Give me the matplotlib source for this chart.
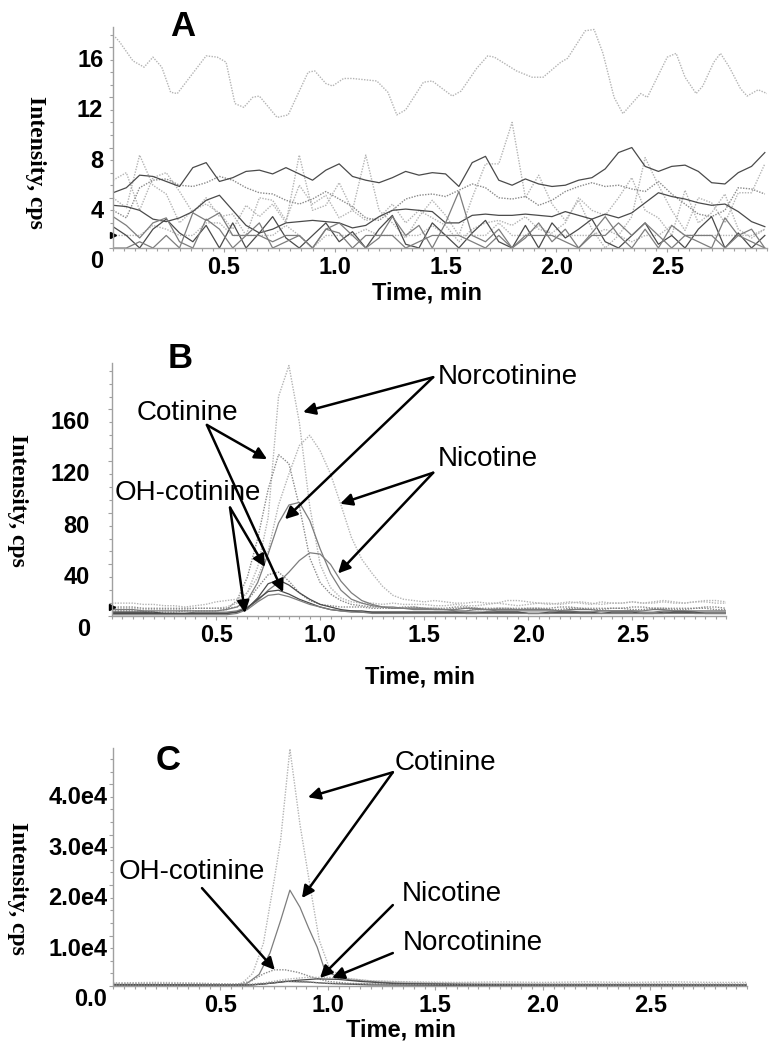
import matplotlib
matplotlib.use("Agg")
import matplotlib.pyplot as plt
import matplotlib.transforms as mtransforms
from matplotlib.ticker import MultipleLocator
import numpy as np

plt.rcParams['font.family'] = ['Liberation Sans', 'DejaVu Sans']

# ---------------- panel A: blank sample, intensity in cps ----------------
a_top_time = [0.01, 0.03, 0.09, 0.14, 0.18, 0.22, 0.26, 0.29, 0.42, 0.47,
              0.51, 0.55, 0.59, 0.63, 0.66, 0.74, 0.79, 0.88, 0.91, 0.96,
              0.99, 1.04, 1.08, 1.19, 1.24, 1.28, 1.32, 1.40, 1.44, 1.53,
              1.57, 1.64, 1.69, 1.72, 1.82, 1.89, 1.94, 2.02, 2.05, 2.13,
              2.17, 2.21, 2.26, 2.30, 2.38, 2.41, 2.50, 2.54, 2.58, 2.63,
              2.66, 2.71, 2.74, 2.78, 2.83, 2.86, 2.91, 2.95]
a_top = [16.8, 16.4, 14.9, 14.4, 15.2, 14.4, 12.4, 12.3, 15.3, 15.2,
         14.8, 11.5, 11.2, 12.0, 12.1, 10.4, 10.6, 14.0, 14.1, 13.1,
         12.9, 13.5, 13.5, 13.3, 12.4, 10.6, 11.0, 13.2, 13.3, 12.1,
         12.5, 14.3, 15.3, 15.2, 14.1, 13.6, 13.6, 14.8, 15.1, 17.3,
         17.4, 15.5, 12.0, 10.7, 12.3, 12.0, 15.2, 15.5, 13.6, 12.3,
         12.9, 14.8, 15.5, 14.4, 12.7, 12.1, 12.6, 12.3]

# the other blank traces are sampled every 0.06 min
a_time = np.round(np.arange(50) * 0.06, 2)
a_dark_high = [4.4, 4.8, 5.8, 5.7, 5.3, 4.9, 6.4, 6.8, 5.3, 5.6,
               6.1, 6.2, 5.9, 6.4, 5.9, 5.4, 6.2, 6.7, 5.7, 5.4,
               5.2, 5.6, 6.1, 5.8, 6.0, 5.9, 4.9, 6.8, 7.3, 5.4,
               5.0, 5.5, 5.1, 4.9, 5.0, 5.4, 5.6, 6.3, 7.6, 8.0,
               6.5, 6.1, 6.5, 6.6, 6.1, 5.2, 5.1, 6.0, 6.5, 7.6]
a_dot_mid = [3.0, 2.4, 4.8, 5.4, 5.5, 5.0, 4.9, 5.2, 5.7, 5.4,
             4.8, 4.4, 4.3, 3.8, 3.5, 3.9, 4.5, 3.9, 3.3, 2.4,
             2.2, 3.0, 3.9, 4.2, 4.3, 4.1, 4.6, 5.1, 4.8, 4.0,
             3.9, 4.1, 3.4, 3.8, 4.5, 4.9, 5.2, 4.9, 5.0, 4.7,
             4.5, 5.3, 4.3, 3.5, 2.7, 2.5, 3.0, 4.8, 4.7, 4.3]
a_dark_low = [3.4, 3.3, 3.0, 2.3, 2.1, 2.4, 2.9, 3.8, 4.2, 3.0,
              1.8, 1.2, 1.5, 2.0, 2.1, 2.2, 2.1, 2.0, 1.6, 1.8,
              2.5, 3.0, 3.1, 3.0, 2.9, 2.0, 2.0, 2.6, 2.7, 2.6,
              2.6, 2.7, 2.6, 2.5, 2.9, 2.6, 2.3, 2.7, 2.4, 2.8,
              3.6, 4.4, 4.1, 3.9, 3.6, 3.4, 3.5, 2.9, 2.1, 1.7]
a_spiky1 = [5.4, 6.0, 3.0, 5.6, 6.0, 4.5, 2.8, 4.0, 2.5, 2.7,
            1.0, 4.0, 3.8, 2.2, 5.0, 3.5, 4.2, 2.4, 3.0, 7.4,
            3.0, 2.0, 0.8, 2.5, 3.8, 2.6, 1.0, 4.0, 6.7, 6.7,
            10.0, 4.0, 5.8, 3.5, 2.2, 3.8, 1.5, 0.0, 1.0, 2.5,
            7.2, 5.0, 3.0, 1.4, 4.0, 3.6, 2.0, 4.4, 4.4, 6.7]
a_spiky2 = [4.0, 3.2, 7.4, 5.0, 4.3, 2.0, 3.0, 3.5, 2.8, 1.5,
            3.4, 2.5, 3.5, 2.0, 7.4, 3.0, 3.4, 5.2, 3.0, 2.2,
            2.4, 3.5, 2.0, 3.0, 2.4, 1.8, 0.5, 1.5, 2.0, 2.2,
            1.8, 2.5, 1.5, 1.2, 2.0, 4.0, 3.0, 2.6, 4.0, 5.6,
            3.0, 2.4, 1.0, 4.6, 2.0, 2.8, 4.3, 1.5, 0.8, 1.5]
a_zig1 = [1.7, 1.0, 0.0, 1.5, 2.3, 1.2, 0.5, 1.8, 0.0, 2.0,
          0.0, 1.2, 2.5, 0.8, 0.0, 1.0, 2.0, 0.5, 1.3, 0.0,
          1.5, 2.6, 0.3, 0.0, 2.0, 1.0, 0.0, 1.2, 2.2, 0.5,
          0.0, 1.8, 0.0, 2.0, 0.8, 1.5, 2.3, 0.5, 0.0, 1.0,
          2.0, 0.3, 1.0, 0.0, 1.5, 2.5, 0.0, 1.2, 0.0, 1.0]
a_zig2 = [2.5, 1.8, 0.8, 2.0, 2.4, 0.5, 0.0, 2.3, 1.5, 0.0,
          1.0, 2.0, 0.0, 0.5, 1.0, 0.0, 1.5, 2.0, 1.0, 0.0,
          0.8, 2.5, 1.0, 1.8, 0.0, 2.0, 4.5, 1.0, 0.5, 1.5,
          0.0, 0.8, 2.0, 0.5, 1.5, 0.0, 1.2, 2.5, 1.0, 0.0,
          1.5, 0.0, 1.8, 1.0, 0.5, 0.0, 2.4, 1.0, 1.5, 0.0]
a_dot_flat = [1.0, 1.0, 1.0, 1.8, 1.5, 1.0, 1.0, 2.0, 2.0, 1.0,
              1.0, 1.0, 1.0, 1.8, 1.0, 0.0, 1.0, 1.0, 1.0, 1.5,
              1.0, 1.0, 1.0, 1.0, 1.8, 1.0, 1.0, 1.0, 1.0, 2.0,
              1.0, 1.0, 1.8, 1.0, 1.0, 1.0, 1.0, 1.5, 1.0, 0.5,
              1.0, 1.0, 1.8, 1.0, 1.0, 1.0, 1.0, 1.0, 1.0, 1.5]
a_mid_flat = [0.0, 0.0, 0.5, 0.0, 1.0, 0.0, 2.8, 2.2, 2.8, 1.0,
              1.0, 1.0, 0.5, 1.0, 1.0, 0.0, 1.5, 1.2, 0.0, 1.0,
              1.0, 1.0, 0.0, 0.5, 1.0, 1.0, 1.0, 0.5, 0.0, 1.0,
              0.0, 1.0, 1.0, 1.0, 0.5, 0.0, 1.0, 1.0, 2.0, 1.0,
              2.0, 1.0, 0.0, 1.0, 1.0, 1.0, 0.0, 1.0, 0.5, 0.0]
a_marker_level = 1.0

# ---------------- panel B: low standard, sampled every 0.05 min ----------------
b_time = np.round(np.arange(60) * 0.05, 2)
b_norcot_q = [10, 10, 10, 9, 9, 8, 8, 7, 8, 9,
              11, 12, 13, 18, 38, 76, 170, 194, 150, 85,
              40, 22, 14, 11, 10, 10, 9, 10, 9, 9,
              9, 8, 8, 9, 8, 8, 9, 10, 9, 8,
              9, 10, 9, 10, 11, 10, 9, 11, 10, 10,
              11, 10, 11, 12, 11, 10, 11, 12, 12, 11]
b_nic_q = [6, 6, 6, 5, 5, 5, 5, 5, 6, 6,
           6, 7, 10, 18, 30, 50, 86, 110, 132, 140,
           128, 110, 86, 61, 44, 33, 23, 16, 13, 12,
           11, 12, 11, 10, 10, 11, 10, 10, 12, 12,
           11, 10, 10, 9, 10, 11, 10, 9, 10, 10,
           11, 10, 10, 11, 10, 10, 11, 11, 10, 10]
b_cot_q = [4, 4, 4, 4, 3, 3, 3, 4, 4, 4,
           4, 5, 12, 30, 60, 98, 125, 118, 85, 45,
           26, 17, 12, 9, 8, 7, 7, 6, 6, 7,
           6, 6, 5, 6, 6, 5, 5, 6, 6, 5,
           6, 6, 5, 5, 6, 6, 5, 5, 6, 6,
           5, 5, 6, 6, 5, 5, 6, 6, 5, 5]
b_norcot_c = [5, 5, 5, 4, 4, 4, 4, 4, 4, 4,
              4, 5, 7, 12, 26, 48, 72, 86, 88, 74,
              52, 33, 20, 13, 10, 8, 7, 7, 6, 6,
              6, 5, 5, 5, 6, 6, 5, 5, 5, 5,
              5, 5, 5, 4, 5, 5, 5, 4, 4, 4,
              4, 4, 5, 5, 4, 4, 4, 4, 4, 4]
b_nic_c = [3, 3, 3, 3, 2, 2, 2, 2, 3, 3,
           3, 3, 4, 7, 12, 20, 26, 34, 43, 49,
           48, 40, 27, 18, 12, 9, 7, 6, 6, 5,
           5, 5, 5, 4, 4, 5, 5, 4, 4, 4,
           4, 4, 4, 4, 4, 3, 3, 4, 4, 4,
           4, 3, 3, 4, 4, 4, 3, 3, 3, 3]
b_cot_c = [2, 2, 2, 2, 2, 2, 2, 2, 2, 2,
           2, 2, 3, 6, 14, 25, 28, 24, 18, 13,
           9, 7, 5, 4, 4, 3, 3, 3, 3, 3,
           3, 3, 3, 3, 2, 2, 3, 3, 3, 3,
           2, 2, 3, 3, 3, 2, 2, 2, 3, 3,
           3, 2, 2, 2, 3, 3, 3, 2, 2, 2]
b_ohcot_q = [7, 7, 7, 6, 6, 6, 6, 6, 6, 6,
             6, 6, 7, 12, 22, 32, 34, 27, 18, 12,
             9, 8, 7, 7, 7, 6, 6, 6, 7, 7,
             6, 6, 6, 7, 7, 6, 6, 6, 6, 6,
             6, 6, 6, 7, 7, 6, 6, 6, 6, 6,
             7, 7, 6, 6, 6, 6, 6, 7, 7, 6]
b_ohcot_c = [3, 3, 3, 3, 3, 2, 2, 2, 2, 2,
             2, 2, 3, 6, 13, 19, 20, 17, 13, 10,
             7, 5, 4, 4, 3, 3, 3, 3, 3, 3,
             3, 3, 3, 3, 3, 3, 3, 3, 3, 3,
             2, 2, 2, 3, 3, 3, 3, 2, 2, 2,
             2, 2, 2, 3, 3, 3, 2, 2, 2, 2]
b_other = [1, 1, 1, 1, 1, 1, 1, 1, 1, 1,
           1, 1, 2, 5, 11, 16, 17, 15, 12, 9,
           7, 5, 4, 3, 3, 2, 2, 2, 2, 2,
           2, 2, 2, 2, 2, 2, 2, 2, 2, 2,
           2, 2, 2, 2, 2, 2, 2, 2, 2, 2,
           2, 2, 2, 2, 2, 2, 2, 2, 2, 2]
b_marker_level = 7.0

# ---------------- panel C: smoker sample ----------------
c_cot_q_time = [0, 0.2, 0.4, 0.55, 0.60, 0.65, 0.70, 0.75, 0.78, 0.823, 0.87, 0.92,
                0.96, 1.01, 1.09, 1.2, 1.4, 1.6, 1.8, 2.0, 2.2, 2.4, 2.6, 2.8, 2.95]
c_cot_q = [600, 700, 600, 300, 500, 2500, 8500, 21000, 29000, 47000, 32000, 19000,
           9000, 3200, 1500, 1000, 800, 700, 800, 700, 800, 700, 800, 700, 700]
c_cot_c_time = [0, 0.3, 0.55, 0.62, 0.68, 0.73, 0.78, 0.823, 0.87, 0.91, 0.95, 0.98,
                1.02, 1.1, 1.3, 1.6, 2.0, 2.4, 2.8, 2.95]
c_cot_c = [300, 250, 150, 400, 2300, 6500, 13000, 19000, 15600, 11500, 7700, 3800,
           2300, 1200, 600, 400, 300, 250, 250, 250]
c_ohcot_time = [0, 0.4, 0.58, 0.64, 0.70, 0.75, 0.80, 0.86, 0.93, 1.0, 1.1, 1.3,
                1.6, 2.0, 2.5, 2.95]
c_ohcot = [500, 450, 350, 900, 2400, 3200, 3200, 2700, 1700, 900, 500, 400,
           300, 300, 300, 250]
c_nic_time = [0, 0.5, 0.62, 0.7, 0.8, 0.9, 1.0, 1.1, 1.2, 1.4, 1.7, 2.0, 2.4, 2.95]
c_nic = [400, 350, 300, 600, 1300, 1700, 1700, 1400, 1000, 700, 500, 450, 450, 400]
c_norcot_time = [0, 0.5, 0.65, 0.75, 0.85, 0.95, 1.05, 1.15, 1.3, 1.6, 2.0, 2.5, 2.95]
c_norcot = [250, 200, 200, 600, 1100, 1400, 1300, 900, 500, 300, 200, 200, 150]
c_small_time = [0, 0.6, 0.7, 0.8, 0.9, 1.0, 1.2, 1.6, 2.0, 2.5, 2.95]
c_small = [150, 100, 400, 900, 800, 500, 200, 100, 100, 100, 100]
c_base_time = [0, 0.6, 0.7, 0.8, 0.9, 1.0, 1.3, 2.0, 2.5, 2.95]
c_base = [200, 150, 400, 1000, 800, 500, 300, 200, 150, 150]

x_ticks = [0.5, 1.0, 1.5, 2.0, 2.5]

# line looks
DOT_LIGHT = dict(color='#b4b4b4', ls=(0, (1, 1)), lw=1.0)
DOT_MID = dict(color='#8a8a8a', ls=(0, (1, 1)), lw=1.0)
SOLID_DARK = dict(color='#4a4a4a', ls='-', lw=0.9)
SOLID_MID = dict(color='#7d7d7d', ls='-', lw=0.9)
AXIS_GREY = '#a0a0a0'


def style_axes(ax, ylim, y_ticks, y_labels, y_minor, label_pad):
    ax.set_xlim(0, 2.95)
    ax.set_ylim(*ylim)
    for side in ('top', 'right'):
        ax.spines[side].set_visible(False)
    for side in ('left', 'bottom'):
        ax.spines[side].set_color(AXIS_GREY)
        ax.spines[side].set_linewidth(1.0)
    ax.set_xticks(x_ticks, [f'{t:.1f}' for t in x_ticks], fontsize=17, fontweight='bold')
    ax.set_yticks(y_ticks, y_labels, fontsize=17, fontweight='bold')
    ax.xaxis.set_minor_locator(MultipleLocator(0.05))
    ax.yaxis.set_minor_locator(MultipleLocator(y_minor))
    ax.tick_params(which='both', direction='out', color=AXIS_GREY, width=0.8)
    ax.tick_params(which='major', length=3)
    ax.tick_params(which='minor', length=2)
    ax.tick_params(axis='x', pad=3)
    ax.tick_params(axis='y', pad=label_pad)
    # the instrument software prints the y labels a little below their ticks
    shift = mtransforms.ScaledTranslation(0, -0.11, ax.figure.dpi_scale_trans)
    for tick in ax.yaxis.get_major_ticks():
        tick.label1.set_transform(tick.label1.get_transform() + shift)


def add_callouts(ax, callouts):
    for c in callouts:
        ax.text(c['xy'][0], c['xy'][1], c['text'], fontsize=20, ha=c['ha'], va='center',
                clip_on=False, zorder=6)
        for target in c['targets']:
            ax.annotate('', xy=target, xytext=c['start'], annotation_clip=False, zorder=6,
                        arrowprops=dict(arrowstyle='-|>', color='black', lw=1.8,
                                        mutation_scale=18, shrinkA=0, shrinkB=0))


fig = plt.figure(figsize=(7.8, 10.5), dpi=100)

# ---- A ----
ax_a = fig.add_axes([0.1449, 0.7638, 0.8385, 0.2105])
ax_a.plot(a_top_time, a_top, **DOT_LIGHT)
ax_a.plot(a_time, a_spiky1, **DOT_LIGHT)
ax_a.plot(a_time, a_spiky2, **DOT_LIGHT)
ax_a.plot(a_time, a_dot_mid, **DOT_MID)
ax_a.plot(a_time, a_dot_flat, **DOT_LIGHT)
ax_a.plot(a_time, a_dark_high, **SOLID_DARK)
ax_a.plot(a_time, a_dark_low, **SOLID_DARK)
ax_a.plot(a_time, a_zig1, **SOLID_DARK)
ax_a.plot(a_time, a_zig2, **SOLID_MID)
ax_a.plot(a_time, a_mid_flat, **SOLID_MID)
ax_a.plot([0], [a_marker_level], marker='>', ms=4, color='black', clip_on=False)
style_axes(ax_a, (0, 17.6), [0, 4, 8, 12, 16], ['0', '4', '8', '12', '16'], 1, 4)

# ---- B ----
ax_b = fig.add_axes([0.1436, 0.4133, 0.7872, 0.2410])
ax_b.plot(b_time, b_norcot_q, **DOT_LIGHT)
ax_b.plot(b_time, b_nic_q, **DOT_LIGHT)
ax_b.plot(b_time, b_cot_q, **DOT_MID)
ax_b.plot(b_time, b_ohcot_q, **DOT_MID)
ax_b.plot(b_time, b_norcot_c, **SOLID_MID)
ax_b.plot(b_time, b_nic_c, **SOLID_MID)
ax_b.plot(b_time, b_cot_c, **SOLID_DARK)
ax_b.plot(b_time, b_ohcot_c, **SOLID_DARK)
ax_b.plot(b_time, b_other, **SOLID_MID)
ax_b.plot([0], [b_marker_level], marker='>', ms=4, color='black', clip_on=False)
style_axes(ax_b, (0, 196), [0, 40, 80, 120, 160], ['0', '40', '80', '120', '160'], 10, 13)
add_callouts(ax_b, [
    dict(text='Cotinine', xy=(0.36, 157), ha='center', start=(0.456, 148),
         targets=[(0.745, 121.5), (0.822, 18.5)]),
    dict(text='OH-cotinine', xy=(0.365, 95), ha='center', start=(0.567, 84),
         targets=[(0.735, 38), (0.639, 2.3)]),
    dict(text='Norcotinine', xy=(1.567, 185), ha='left', start=(1.543, 185),
         targets=[(0.918, 158), (0.831, 75)]),
    dict(text='Nicotine', xy=(1.567, 121.5), ha='left', start=(1.543, 111),
         targets=[(1.096, 87), (1.086, 33)]),
])

# ---- C ----
ax_c = fig.add_axes([0.1449, 0.0610, 0.8128, 0.2267])
ax_c.plot(c_cot_q_time, c_cot_q, **DOT_LIGHT)
ax_c.plot(c_cot_c_time, c_cot_c, **SOLID_MID)
ax_c.plot(c_ohcot_time, c_ohcot, **DOT_MID)
ax_c.plot(c_nic_time, c_nic, **DOT_LIGHT)
ax_c.plot(c_norcot_time, c_norcot, **SOLID_DARK)
ax_c.plot(c_small_time, c_small, **SOLID_DARK)
ax_c.plot(c_base_time, c_base, **DOT_MID)
style_axes(ax_c, (0, 47200), [0, 10000, 20000, 30000, 40000],
           ['0.0', '1.0e4', '2.0e4', '3.0e4', '4.0e4'], 2500, 1)
add_callouts(ax_c, [
    dict(text='Cotinine', xy=(1.312, 44150), ha='left', start=(1.302, 42370),
         targets=[(0.907, 37420), (0.879, 17420)]),
    dict(text='OH-cotinine', xy=(0.367, 22570), ha='center', start=(0.414, 19400),
         targets=[(0.753, 3170)]),
    dict(text='Nicotine', xy=(1.344, 18220), ha='left', start=(1.302, 16040),
         targets=[(0.963, 1580)]),
    dict(text='Norcotinine', xy=(1.349, 8510), ha='left', start=(1.302, 6530),
         targets=[(1.019, 1580)]),
])

# panel letters and axis titles
for letter, x, y in [('A', 183, 26.5), ('B', 180, 358.5), ('C', 168, 760)]:
    fig.text(x / 780, 1 - y / 1050, letter, fontsize=25, fontweight='bold',
             ha='center', va='center')
for x, y in [(427, 293), (420, 677), (401, 1030)]:
    fig.text(x / 780, 1 - y / 1050, 'Time, min', fontsize=17, fontweight='bold',
             ha='center', va='center')
for x, y in [(35, 162), (17, 500), (17, 888)]:
    fig.text(x / 780, 1 - y / 1050, 'Intensity, cps', fontsize=17, fontweight='bold',
             family=['Liberation Serif', 'DejaVu Serif'], rotation=270,
             ha='center', va='center')

fig.savefig('out.png', dpi=100)
